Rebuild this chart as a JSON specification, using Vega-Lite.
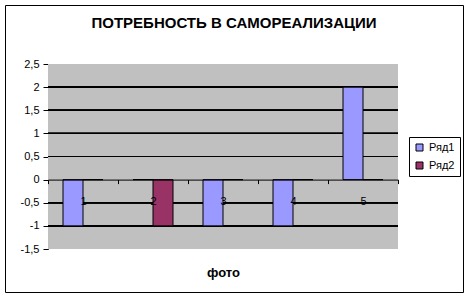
{
  "$schema": "https://vega.github.io/schema/vega-lite/v6.json",
  "autosize": "none",
  "width": 458,
  "height": 287,
  "padding": {"left": 5, "top": 5, "right": 5, "bottom": 5},
  "background": "white",
  "title": {
    "text": "ПОТРЕБНОСТЬ В САМОРЕАЛИЗАЦИИ",
    "font": "Liberation Sans",
    "fontSize": 15,
    "fontWeight": "bold",
    "color": "black",
    "anchor": "middle",
    "frame": "group",
    "baseline": "alphabetic",
    "offset": -38
  },
  "data": {
    "values": [
      {"cat": "1", "series": "Ряд1", "v": -1},
      {"cat": "2", "series": "Ряд1", "v": 0},
      {"cat": "3", "series": "Ряд1", "v": -1},
      {"cat": "4", "series": "Ряд1", "v": -1},
      {"cat": "5", "series": "Ряд1", "v": 2},
      {"cat": "1", "series": "Ряд2", "v": 0},
      {"cat": "2", "series": "Ряд2", "v": -1},
      {"cat": "3", "series": "Ряд2", "v": 0},
      {"cat": "4", "series": "Ряд2", "v": 0},
      {"cat": "5", "series": "Ряд2", "v": 0}
    ]
  },
  "encoding": {
    "x": {
      "field": "cat",
      "type": "nominal",
      "scale": {"type": "band", "domain": ["1", "2", "3", "4", "5"], "range": [43, 393], "paddingInner": 0, "paddingOuter": 0},
      "axis": {
        "zindex": 1,
        "offset": -112.4,
        "orient": "bottom",
        "title": "фото",
        "titleFont": "Liberation Sans",
        "titleFontSize": 13,
        "titleFontWeight": "bold",
        "titleColor": "black",
        "titleY": 97,
        "titleBaseline": "alphabetic",
        "labelAngle": 0,
        "labelFont": "Liberation Sans",
        "labelFontSize": 11,
        "labelFontWeight": "normal",
        "labelColor": "black",
        "labelPadding": 12,
        "tickBand": "extent",
        "tickSize": 4,
        "tickColor": "black",
        "domainColor": "black",
        "grid": false
      }
    },
    "y": {
      "type": "quantitative",
      "scale": {"domain": [-1.5, 2.5], "range": [244, 59], "nice": false, "zero": false},
      "axis": {
        "offset": -43,
        "values": [-1.5, -1, -0.5, 0, 0.5, 1, 1.5, 2, 2.5],
        "labelExpr": "replace(toString(datum.value), '.', ',')",
        "labelFont": "Liberation Sans",
        "labelFontSize": 11,
        "labelColor": "black",
        "labelPadding": 4,
        "tickSize": 5,
        "tickColor": "black",
        "domainColor": "black",
        "grid": false,
        "title": null
      }
    }
  },
  "layer": [
    {
      "transform": [{"filter": "datum.series === 'Ряд1'"}],
      "mark": {"type": "rect", "color": "#C0C0C0"},
      "encoding": {
        "y": {"datum": -1.5, "type": "quantitative"},
        "y2": {"datum": 2.5}
      }
    },
    {
      "mark": {"type": "rule", "color": "black", "strokeWidth": 1},
      "encoding": {
        "x": {"datum": "1", "type": "nominal", "bandPosition": 0},
        "x2": {"datum": "5", "bandPosition": 1},
        "y": {"datum": -1, "type": "quantitative"}
      }
    },
    {
      "mark": {"type": "rule", "color": "black", "strokeWidth": 1},
      "encoding": {
        "x": {"datum": "1", "type": "nominal", "bandPosition": 0},
        "x2": {"datum": "5", "bandPosition": 1},
        "y": {"datum": -0.5, "type": "quantitative"}
      }
    },
    {
      "mark": {"type": "rule", "color": "black", "strokeWidth": 1},
      "encoding": {
        "x": {"datum": "1", "type": "nominal", "bandPosition": 0},
        "x2": {"datum": "5", "bandPosition": 1},
        "y": {"datum": 0.5, "type": "quantitative"}
      }
    },
    {
      "mark": {"type": "rule", "color": "black", "strokeWidth": 1},
      "encoding": {
        "x": {"datum": "1", "type": "nominal", "bandPosition": 0},
        "x2": {"datum": "5", "bandPosition": 1},
        "y": {"datum": 1, "type": "quantitative"}
      }
    },
    {
      "mark": {"type": "rule", "color": "black", "strokeWidth": 1},
      "encoding": {
        "x": {"datum": "1", "type": "nominal", "bandPosition": 0},
        "x2": {"datum": "5", "bandPosition": 1},
        "y": {"datum": 1.5, "type": "quantitative"}
      }
    },
    {
      "mark": {"type": "rule", "color": "black", "strokeWidth": 1},
      "encoding": {
        "x": {"datum": "1", "type": "nominal", "bandPosition": 0},
        "x2": {"datum": "5", "bandPosition": 1},
        "y": {"datum": 2, "type": "quantitative"}
      }
    },
    {
      "mark": {"type": "bar", "stroke": "black", "strokeWidth": 1, "fillOpacity": 1},
      "encoding": {
        "xOffset": {
          "field": "series",
          "type": "nominal",
          "scale": {"domain": ["Ряд1", "Ряд2"], "paddingInner": 0, "paddingOuter": 0.75}
        },
        "y": {"field": "v", "type": "quantitative"},
        "color": {
          "field": "series",
          "type": "nominal",
          "scale": {"domain": ["Ряд1", "Ряд2"], "range": ["#9999FF", "#993366"]},
          "legend": {
            "title": null,
            "orient": "none",
            "legendX": 404,
            "legendY": 132,
            "padding": 5,
            "strokeColor": "black",
            "symbolType": "square",
            "symbolSize": 49,
            "symbolStrokeColor": "black",
            "symbolStrokeWidth": 1,
            "symbolOpacity": 1,
            "labelFont": "Liberation Sans",
            "labelFontSize": 11,
            "labelColor": "black",
            "rowPadding": 6
          }
        }
      }
    }
  ],
  "config": {
    "view": {"stroke": "black", "strokeWidth": 1, "fill": "white"},
    "axis": {"domainWidth": 1, "tickWidth": 1}
  }
}
